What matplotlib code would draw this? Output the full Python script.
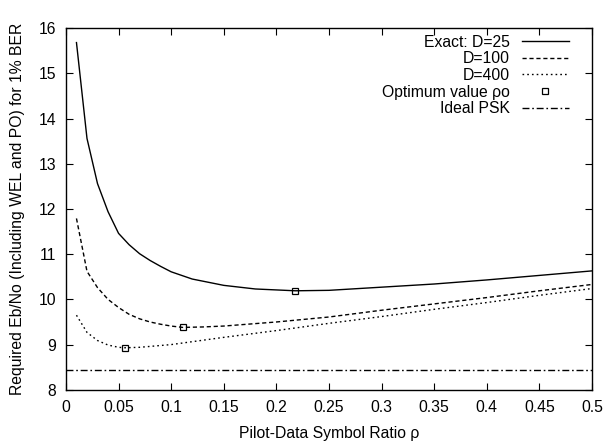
import matplotlib

matplotlib.use("Agg")
import matplotlib.pyplot as plt

# Required Eb/No vs pilot-data symbol ratio
rho_d25 = [0.01, 0.02, 0.03, 0.04, 0.05, 0.06, 0.07, 0.08, 0.09, 0.10,
           0.12, 0.15, 0.18, 0.218, 0.25, 0.30, 0.35, 0.40, 0.45, 0.50]
ebno_d25 = [15.68, 13.56, 12.56, 11.94, 11.46, 11.21, 11.01, 10.86, 10.73, 10.61,
            10.45, 10.31, 10.23, 10.19, 10.20, 10.27, 10.34, 10.43, 10.53, 10.63]

rho_d100 = [0.01, 0.02, 0.03, 0.04, 0.05, 0.06, 0.07, 0.08, 0.09, 0.10,
            0.111, 0.13, 0.15, 0.20, 0.25, 0.30, 0.35, 0.40, 0.45, 0.50]
ebno_d100 = [11.79, 10.62, 10.26, 10.00, 9.82, 9.67, 9.57, 9.50, 9.45, 9.41,
             9.38, 9.39, 9.41, 9.50, 9.61, 9.76, 9.90, 10.04, 10.19, 10.33]

rho_d400 = [0.01, 0.02, 0.03, 0.04, 0.05, 0.056, 0.07, 0.08, 0.10,
            0.15, 0.20, 0.25, 0.30, 0.35, 0.40, 0.45, 0.50]
ebno_d400 = [9.65, 9.27, 9.09, 8.99, 8.94, 8.93, 8.94, 8.96, 9.00,
             9.16, 9.31, 9.47, 9.62, 9.78, 9.93, 10.09, 10.24]

rho_opt = [0.218, 0.111, 0.056]
ebno_opt = [10.19, 9.38, 8.93]

ideal_psk = 8.44

x_ticks = [0, 0.05, 0.1, 0.15, 0.2, 0.25, 0.3, 0.35, 0.4, 0.45, 0.5]
x_tick_labels = ["0", "0.05", "0.1", "0.15", "0.2", "0.25", "0.3", "0.35", "0.4", "0.45", "0.5"]
y_ticks = list(range(8, 17))

plt.rcParams["font.family"] = ["Liberation Sans", "DejaVu Sans"]
plt.rcParams["font.size"] = 11.3

fig = plt.figure(figsize=(6.05, 4.46), dpi=100)
ax = fig.add_axes([0.109, 0.126, 0.8695, 0.811])

ax.plot(rho_d25, ebno_d25, color="black", lw=1.0, label="Exact: D=25")
ax.plot(rho_d100, ebno_d100, color="black", lw=1.0, dashes=(3, 2), label="D=100")
ax.plot(rho_d400, ebno_d400, color="black", lw=1.0, dashes=(1.2, 2.2), label="D=400")
ax.plot(rho_opt, ebno_opt, linestyle="none", marker="s", ms=5, mfc="none",
        mec="black", mew=0.9, label="Optimum value ρo")
ax.plot([0, 0.5], [ideal_psk, ideal_psk], color="black", lw=1.0,
        dashes=(5, 2, 1.2, 2), label="Ideal PSK")

ax.set_xlim(0, 0.5)
ax.set_ylim(8, 16)
ax.set_xticks(x_ticks)
ax.set_xticklabels(x_tick_labels)
ax.set_yticks(y_ticks)
ax.tick_params(direction="in", top=True, right=True, length=5, width=0.8, pad=7)
for sp in ax.spines.values():
    sp.set_linewidth(1.0)

ax.set_xlabel("Pilot-Data Symbol Ratio ρ", labelpad=8)
ax.set_ylabel("Required Eb/No (Including WEL and PO) for 1% BER", labelpad=10)

ax.legend(loc="upper right", frameon=False, markerfirst=False, handlelength=3.0,
          handletextpad=0.75, labelspacing=0.1, borderaxespad=0.0, borderpad=0.2,
          bbox_to_anchor=(0.962, 0.99))

fig.savefig("out.png", dpi=100)
